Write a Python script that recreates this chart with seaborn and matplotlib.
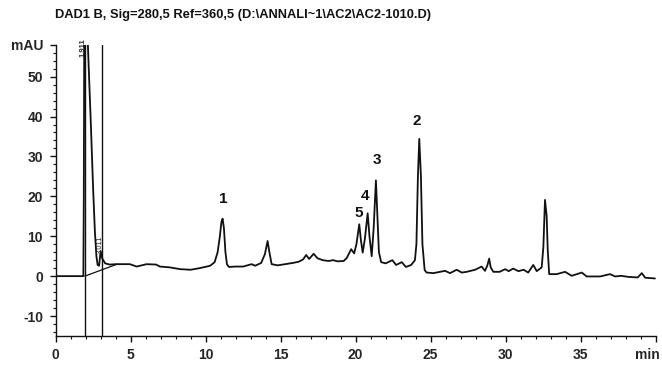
import matplotlib
matplotlib.use("Agg")
import matplotlib.pyplot as plt
from matplotlib.ticker import MultipleLocator, FixedLocator
from matplotlib.transforms import ScaledTranslation
import seaborn as sns
import pandas as pd

# Retention time (min) and absorbance (mAU) of the DAD trace
time_min = [
    0.0, 1.85, 1.88, 1.92, 2.0, 2.17, 2.35, 2.5, 2.62, 2.72, 2.8, 2.9, 3.0, 3.1,
    3.3, 3.6, 4.06, 4.95, 5.4, 6.07, 6.7, 6.95, 7.6, 8.3, 9.0, 9.6, 10.3, 10.6,
    10.8, 10.95, 11.05, 11.13, 11.22, 11.32, 11.42, 11.55, 12.0, 12.5, 13.07,
    13.3, 13.7, 13.95, 14.13, 14.25, 14.4, 14.8, 15.3, 15.8, 16.2, 16.5, 16.7,
    16.9, 17.2, 17.45, 17.8, 18.2, 18.5, 18.8, 19.2, 19.4, 19.7, 19.9, 20.05,
    20.24, 20.35, 20.47, 20.62, 20.8, 20.92, 21.07, 21.2, 21.35, 21.45, 21.55,
    21.7, 22.0, 22.44, 22.7, 23.07, 23.35, 23.7, 23.95, 24.05, 24.15, 24.24,
    24.35, 24.45, 24.6, 24.73, 25.18, 25.96, 26.29, 26.73, 27.07, 27.4, 27.96,
    28.4, 28.62, 28.77, 28.9, 29.0, 29.18, 29.6, 29.96, 30.2, 30.5, 30.85,
    31.2, 31.5, 31.84, 32.07, 32.4, 32.51, 32.62, 32.73, 32.8, 32.9, 33.4,
    33.96, 34.4, 35.07, 35.4, 36.3, 36.95, 37.3, 37.7, 38.2, 38.8, 39.07,
    39.3, 39.95,
]
absorbance_mau = [
    0.0, 0.0, 20.0, 75.0, 75.0, 56.0, 38.0, 22.0, 11.0, 5.0, 2.8, 2.6, 6.3, 4.5,
    3.2, 2.9, 3.0, 3.0, 2.4, 3.0, 2.9, 2.4, 2.2, 1.75, 1.6, 2.0, 2.6, 3.5,
    6.0, 10.0, 13.5, 14.4, 12.0, 6.0, 3.0, 2.3, 2.4, 2.4, 3.0,
    2.6, 3.3, 5.5, 8.8, 6.0, 3.0, 2.7, 3.0, 3.3, 3.6, 4.2, 5.3,
    4.3, 5.6, 4.5, 4.0, 3.8, 4.0, 3.7, 3.8, 4.5, 6.75, 5.7, 8.0,
    13.0, 9.0, 5.9, 9.5, 15.75, 10.0, 5.0, 12.0, 24.0, 15.0, 6.0,
    3.5, 3.2, 4.0, 2.8, 3.5, 2.3, 2.8, 4.0, 8.0, 25.0, 34.4,
    25.0, 8.0, 1.5, 0.9, 0.75, 1.33, 0.75, 1.6, 0.9, 1.08, 1.6,
    2.4, 1.33, 2.6, 4.4, 2.2, 1.08, 1.08, 1.75, 1.25, 1.9, 1.25,
    1.6, 0.9, 2.8, 1.25, 2.2, 7.2, 19.1, 15.1, 6.75, 0.5, 0.5,
    1.08, 0.08, 0.9, -0.08, -0.08, 0.5, -0.08, 0.08, -0.2, -0.33, 0.75,
    -0.4, -0.58,
]

# Integration baseline under the solvent front
baseline_time = [1.95, 4.1]
baseline_mau = [0.0, 3.0]

# Event markers and their retention-time tags
marker_times = [1.95, 3.07]
marker_tags = ["1.911", "3.011"]

# Numbered peaks: label text, position (min) and height of the label (mAU)
peak_labels = ["1", "2", "3", "4", "5"]
peak_label_time = [11.2, 24.1, 21.4, 20.6, 20.2]
peak_label_mau = [19.3, 38.8, 29.0, 20.0, 15.9]

x_ticks = [0, 5, 10, 15, 20, 25, 30, 35, 40]
x_tick_labels = ["0", "5", "10", "15", "20", "25", "30", "35", "min"]
y_ticks = [-10, 0, 10, 20, 30, 40, 50, 58]
y_tick_labels = ["-10", "0", "10", "20", "30", "40", "50", "mAU"]

title = r"DAD1 B, Sig=280,5 Ref=360,5 (D:\ANNALI~1\AC2\AC2-1010.D)"

sns.set_style("ticks")
plt.rcParams["font.family"] = ["Liberation Sans", "DejaVu Sans"]

fig = plt.figure(figsize=(6.62, 3.65), dpi=100)
ax = fig.add_axes([0.084, 0.0795, 0.9065, 0.798])

trace = pd.DataFrame({"t": time_min, "mau": absorbance_mau})
sns.lineplot(data=trace, x="t", y="mau", sort=False, estimator=None,
             color="#111111", linewidth=1.3, ax=ax)
sns.lineplot(x=baseline_time, y=baseline_mau, sort=False, estimator=None,
             color="#111111", linewidth=0.9, ax=ax)

for t in marker_times:
    ax.axvline(t, color="#111111", linewidth=1.0)

ax.text(marker_times[0] - 0.12, 59.5, marker_tags[0], rotation=90,
        fontsize=5.5, fontweight="bold", ha="center", va="top",
        clip_on=False)
ax.text(marker_times[1] - 0.1, 5.5, marker_tags[1], rotation=90,
        fontsize=5.5, ha="center", va="bottom")

for lab, t, v in zip(peak_labels, peak_label_time, peak_label_mau):
    ax.text(t, v, lab, fontsize=11, fontweight="bold", ha="center",
            va="center", color="#111111")

ax.set_xlim(0, 40)
ax.set_ylim(-15, 58)
ax.xaxis.set_major_locator(FixedLocator(x_ticks))
ax.set_xticklabels(x_tick_labels)
ax.xaxis.set_minor_locator(MultipleLocator(1))
ax.yaxis.set_major_locator(FixedLocator(y_ticks))
ax.set_yticklabels(y_tick_labels)
ax.yaxis.set_minor_locator(MultipleLocator(2))
ax.tick_params(which="major", length=4, width=1.0, labelsize=10, pad=5,
               color="#111111")
ax.tick_params(which="minor", length=2, width=0.8, color="#111111")
for lbl in ax.get_xticklabels() + ax.get_yticklabels():
    lbl.set_fontweight("bold")
# keep the unit label at the end of the time axis inside the canvas
unit_lbl = ax.get_xticklabels()[-1]
unit_lbl.set_transform(unit_lbl.get_transform()
                       + ScaledTranslation(-8 / 100, 0, fig.dpi_scale_trans))
ax.set_xlabel("")
ax.set_ylabel("")
for side in ("top", "right"):
    ax.spines[side].set_visible(False)
for side in ("left", "bottom"):
    ax.spines[side].set_color("#111111")
    ax.spines[side].set_linewidth(1.0)

fig.text(55 / 662, 1 - 15 / 365, title, fontsize=9.3, fontweight="bold",
         ha="left", va="center", color="#111111")

fig.savefig("out.png", dpi=100)
